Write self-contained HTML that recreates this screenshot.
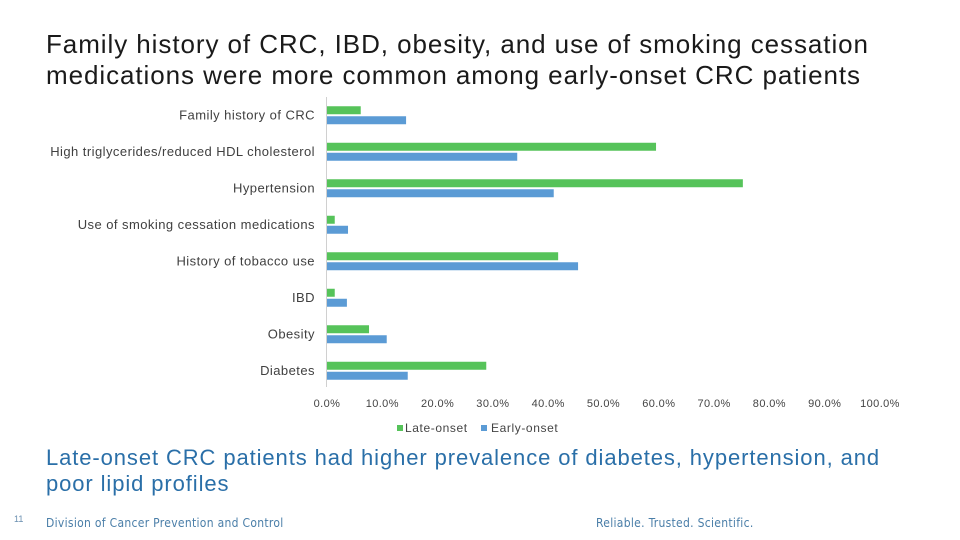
<!DOCTYPE html>
<html><head><meta charset="utf-8"><style>
body{margin:0;width:960px;height:540px;background:#fff;font-family:"Liberation Sans",sans-serif;position:relative;overflow:hidden}
.t{position:absolute;color:#222}
</style></head><body>
<div class="t" style="left:46px;top:29px;font-size:26px;line-height:31px;letter-spacing:0.93px;color:#1a1a1a">Family history of CRC, IBD, obesity, and use of smoking cessation<br>medications were more common among early-onset CRC patients</div>
<svg id="chart" width="960" height="540" style="position:absolute;left:0;top:0"></svg>
<div class="t" style="left:46px;top:445px;font-size:22px;line-height:26px;letter-spacing:0.9px;color:#2a6fa8">Late-onset CRC patients had higher prevalence of diabetes, hypertension, and<br>poor lipid profiles</div>
<div class="t" style="left:14px;top:514px;font-size:9px;color:#6a8fb0">11</div>
<div class="t" style="left:46px;top:516px;font-size:12px;letter-spacing:0.3px;color:#4a7ea8;font-family:'DejaVu Sans Condensed','DejaVu Sans',sans-serif">Division of Cancer Prevention and Control</div>
<div class="t" style="left:596px;top:516px;font-size:12px;letter-spacing:0.3px;color:#4a7ea8;font-family:'DejaVu Sans Condensed','DejaVu Sans',sans-serif">Reliable. Trusted. Scientific.</div>
<script>
const categories=["Family history of CRC","High triglycerides/reduced HDL cholesterol","Hypertension","Use of smoking cessation medications","History of tobacco use","IBD","Obesity","Diabetes"];
const lateOnset=[6.1,59.5,75.2,1.4,41.8,1.4,7.6,28.8];
const earlyOnset=[14.3,34.4,41.0,3.8,45.4,3.6,10.8,14.6];
const tickLabels=["0.0%","10.0%","20.0%","30.0%","40.0%","50.0%","60.0%","70.0%","80.0%","90.0%","100.0%"];
const svg=document.getElementById('chart');const NS='http://www.w3.org/2000/svg';
const x0=327,x1=880,top0=97,band=36.5;
const xs=v=>x0+(x1-x0)*v/100;
function mk(t,a,txt){const e=document.createElementNS(NS,t);for(const k in a)e.setAttribute(k,a[k]);if(txt!=null)e.textContent=txt;svg.appendChild(e);return e;}
const ax=mk('line',{x1:326.5,x2:326.5,y1:97,y2:387,stroke:'#d0d0d0'});


categories.forEach((c,i)=>{
 const yc=top0+band*i+band/2;
 const l=mk('text',{x:315,y:yc+4,'text-anchor':'end','font-size':13,'letter-spacing':0.45,fill:'#404040','font-family':'Liberation Sans'},c);
 
 
 const g=mk('rect',{x:x0,y:yc-9,width:xs(lateOnset[i])-x0,height:8,fill:'#56c35a'});
 
 
 const b=mk('rect',{x:x0,y:yc+1,width:xs(earlyOnset[i])-x0,height:8,fill:'#5b9bd5'});
 
 
});
tickLabels.forEach((t,i)=>{
 const e=mk('text',{x:xs(i*10),y:407,'text-anchor':'middle','font-size':11,'letter-spacing':0.4,fill:'#444','font-family':'Liberation Sans'},t);
 
 
});
const lg1=mk('rect',{x:397,y:425,width:6,height:6,fill:'#56c35a'});


const lt1=mk('text',{x:405,y:432,'font-size':12,'letter-spacing':0.6,fill:'#444','font-family':'Liberation Sans'},'Late-onset');


const lg2=mk('rect',{x:481,y:425,width:6,height:6,fill:'#5b9bd5'});


const lt2=mk('text',{x:491,y:432,'font-size':12,'letter-spacing':0.6,fill:'#444','font-family':'Liberation Sans'},'Early-onset');


</script>
</body></html>
